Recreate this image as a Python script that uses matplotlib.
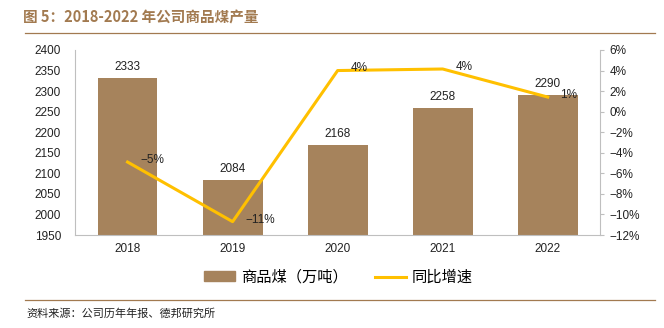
import matplotlib
matplotlib.use("Agg")
import matplotlib.pyplot as plt
from matplotlib.lines import Line2D
from matplotlib.patches import Patch

plt.rcParams['font.family'] = ['Liberation Sans', 'Noto Sans CJK SC', 'DejaVu Sans']

years = ['2018', '2019', '2020', '2021', '2022']
output = [2333, 2084, 2168, 2258, 2290]
growth = [-4.9, -10.7, 4.0, 4.15, 1.42]
growth_labels = ['-5%', '-11%', '4%', '4%', '1%']

bar_color = '#A6835C'
line_color = '#FFC000'
title_color = '#A27A50'

fig = plt.figure(figsize=(6.64, 3.28), dpi=100)
ax = fig.add_axes([0.113, 0.2835, 0.791, 0.5641])
x = list(range(len(years)))
ax.bar(x, output, width=0.57, color=bar_color, zorder=2)
ax.set_ylim(1950, 2400)
ax.set_yticks(range(1950, 2401, 50))
ax.set_xlim(-0.5, 4.5)
ax.set_xticks(x)
ax.set_xticklabels(years)
ax.tick_params(axis='both', labelsize=8.5, length=0, colors='#222222')
ax.tick_params(axis='y', pad=10)
ax.tick_params(axis='x', pad=6)
for s in ['top', 'right']:
    ax.spines[s].set_visible(False)
for s in ['left', 'bottom']:
    ax.spines[s].set_color('#BFBFBF')
for xi, v in zip(x, output):
    ax.text(xi, v + 12, str(v), ha='center', va='bottom', fontsize=8.5, color='#222222')

ax2 = ax.twinx()
ax2.plot(x, growth, color=line_color, lw=2.2, zorder=3)
ax2.set_ylim(-12, 6)
ax2.set_yticks(range(-12, 7, 2))
ax2.set_yticklabels([f'{t}%'.replace('-', '\u2212') for t in range(-12, 7, 2)])
ax2.tick_params(axis='y', labelsize=8.5, length=3, direction='out', colors='#222222', color='#BFBFBF')
for s in ['top', 'left', 'bottom']:
    ax2.spines[s].set_visible(False)
ax2.spines['right'].set_color('#BFBFBF')
for xi, g, lab in zip(x, growth, growth_labels):
    ax2.text(xi + 0.12, g + 0.2, lab.replace('-', '\u2212'), ha='left', va='center', fontsize=8.5, color='#222222')

# title
fig.text(0.035, 0.948, '图 5：2018-2022 年公司商品煤产量', fontsize=10.5, fontweight='bold',
         color=title_color, ha='left', va='center', family=['Noto Sans CJK SC', 'DejaVu Sans'])
fig.add_artist(Line2D([0.038, 0.987], [0.898, 0.898], color=title_color, lw=0.9))
fig.add_artist(Line2D([0.038, 0.987], [0.085, 0.085], color=title_color, lw=0.9))
fig.text(0.04, 0.045, '资料来源：公司历年年报、德邦研究所', fontsize=8, color='#222222',
         ha='left', va='center', family=['Noto Sans CJK SC', 'DejaVu Sans'])

handles = [Patch(color=bar_color), Line2D([0], [0], color=line_color, lw=2.2)]
leg = fig.legend(handles, ['商品煤（万吨）', '同比增速'], loc='center', bbox_to_anchor=(0.51, 0.155),
                 ncol=2, frameon=False, handlelength=2.0, handleheight=0.6, handletextpad=0.4,
                 columnspacing=1.8, prop={'family': ['Noto Sans CJK SC', 'DejaVu Sans'], 'size': 11})

fig.savefig('out.png', dpi=100)
